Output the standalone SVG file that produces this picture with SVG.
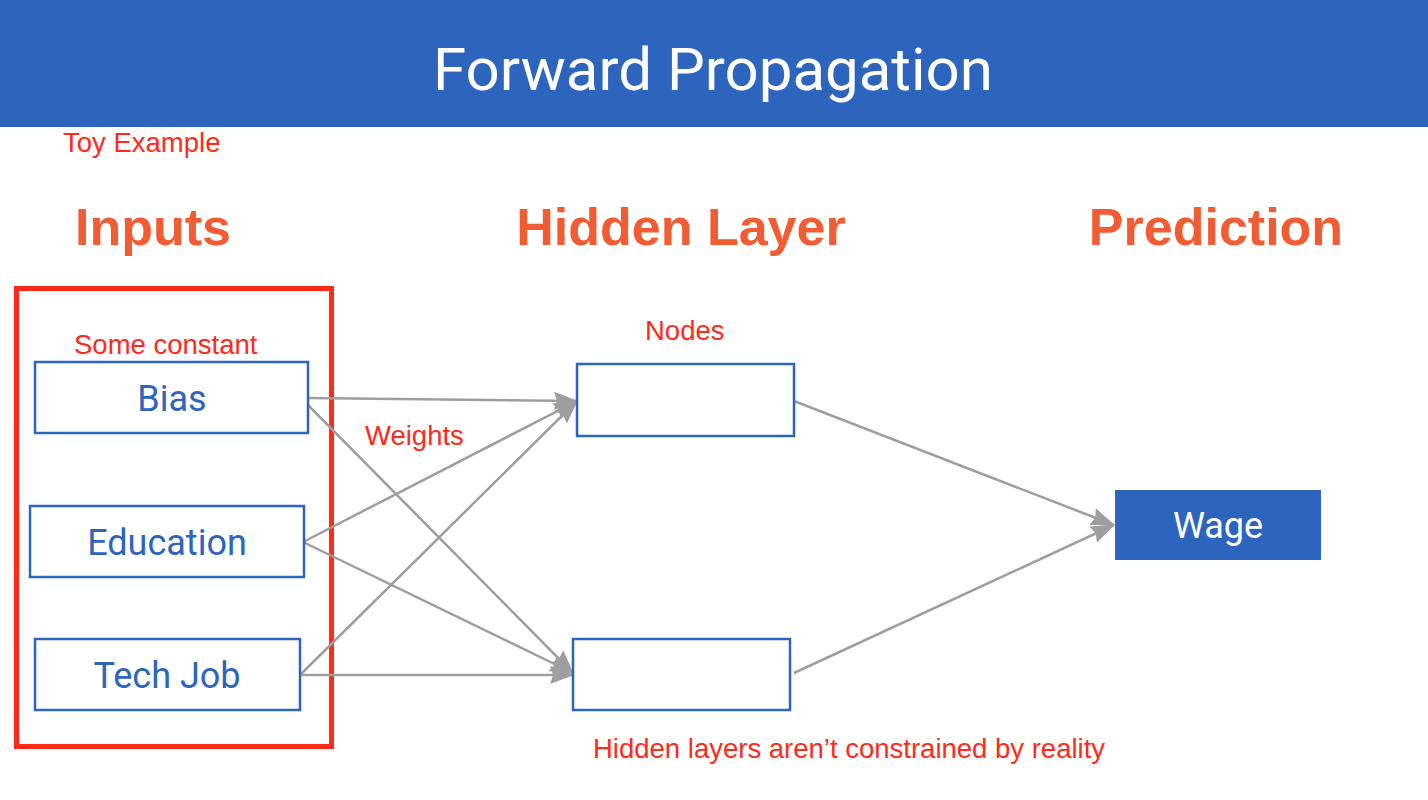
<svg xmlns="http://www.w3.org/2000/svg" width="1428" height="800" viewBox="0 0 1428 800">
<style>
.title{font-family:Roboto,"Liberation Sans",sans-serif;font-size:60px;fill:#ffffff;text-anchor:middle}
.note{font-family:"Liberation Sans",Arial,sans-serif;font-size:27.5px;fill:#FF2A1A}
.head{font-family:"Liberation Sans",Arial,sans-serif;font-size:52px;font-weight:bold;fill:#F25C33;text-anchor:middle}
.box{fill:#ffffff;stroke:#2D64BE;stroke-width:2.5}
.lbl{font-family:Roboto,"Liberation Sans",sans-serif;font-size:36px;fill:#2D64BE;text-anchor:middle}
.conn{stroke:#9E9E9E;stroke-width:2.5;fill:none;marker-end:url(#arr)}
</style>
<defs>
<marker id="arr" markerUnits="userSpaceOnUse" markerWidth="24" markerHeight="20" viewBox="0 0 24 20" refX="23" refY="10" orient="auto">
<path d="M0,1 L24,10 L0,19 L3,10 Z" fill="#9E9E9E"/>
</marker>
</defs>
<rect x="0" y="0" width="1428" height="127" fill="#2D64BE"/>
<text class="title" x="713" y="90">Forward Propagation</text>
<text class="note" x="63" y="152">Toy Example</text>
<text class="head" x="153" y="245">Inputs</text>
<text class="head" x="681" y="245">Hidden Layer</text>
<text class="head" x="1216" y="245">Prediction</text>
<rect x="16.5" y="288.5" width="315" height="458" fill="none" stroke="#FF2A1A" stroke-width="5"/>
<text class="note" x="74" y="354">Some constant</text>
<text class="note" x="645" y="340">Nodes</text>
<text class="note" x="365" y="445">Weights</text>
<text class="note" x="593" y="758">Hidden layers aren’t constrained by reality</text>
<g id="connectors">
<path class="conn" d="M306,398 L577,401"/>
<path class="conn" d="M306,403 L573,673"/>
<path class="conn" d="M303,542 L577,401"/>
<path class="conn" d="M303,542 L573,673"/>
<path class="conn" d="M300,675 L577,401"/>
<path class="conn" d="M300,675 L573,675"/>
<path class="conn" d="M794,401 L1114,525"/>
<path class="conn" d="M794,673 L1114,525"/>
</g>
<g id="bias"><rect class="box" x="35" y="362" width="273" height="71"/><text class="lbl" x="172" y="411">Bias</text></g>
<g id="education"><rect class="box" x="30" y="506" width="274" height="71"/><text class="lbl" x="167" y="555">Education</text></g>
<g id="techjob"><rect class="box" x="35" y="639" width="265" height="71"/><text class="lbl" x="167" y="688">Tech Job</text></g>
<g id="hidden1"><rect class="box" x="577" y="364" width="217" height="72"/></g>
<g id="hidden2"><rect class="box" x="573" y="639" width="217" height="71"/></g>
<g id="wage"><rect x="1115" y="490" width="206" height="70" fill="#2D64BE"/><text class="lbl" x="1218" y="538" style="fill:#ffffff">Wage</text></g>
</svg>
